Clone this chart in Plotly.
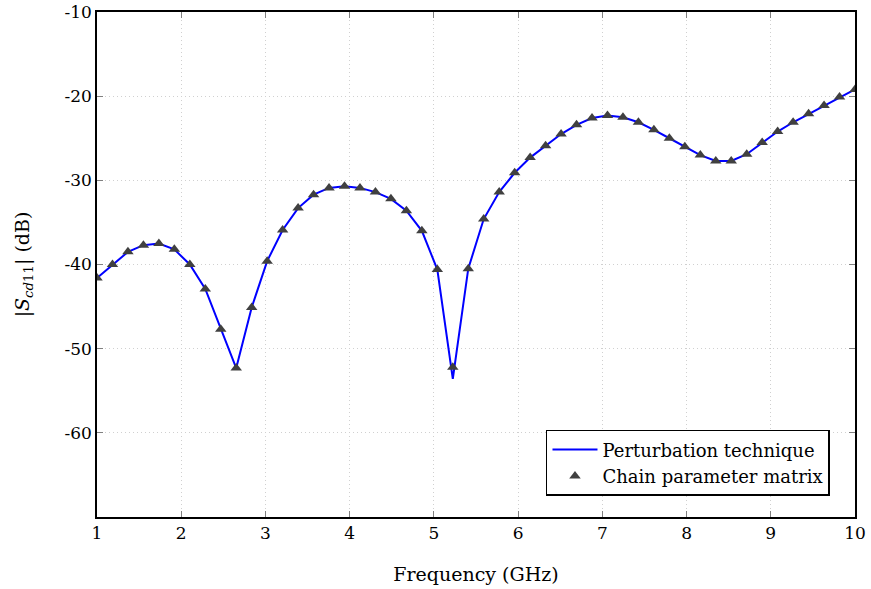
import numpy as np
import plotly.graph_objects as go

freq = np.linspace(1, 10, 50)
chain_db = [-41.6, -40.0, -38.5, -37.7, -37.5, -38.2, -40.0, -42.9, -47.7, -52.3,
            -45.1, -39.6, -35.9, -33.3, -31.7, -30.9, -30.7, -30.9, -31.4, -32.2,
            -33.6, -36.0, -40.6, -52.2, -40.5, -34.6, -31.4, -29.1, -27.3, -25.9,
            -24.5, -23.4, -22.6, -22.3, -22.5, -23.1, -24.0, -25.0, -26.0, -27.0,
            -27.7, -27.7, -26.9, -25.5, -24.2, -23.1, -22.1, -21.1, -20.1, -19.2]
pert_db = list(chain_db)
pert_db[23] = -53.6

y_ticks = [-60, -50, -40, -30, -20, -10]
y_labels = ["-60", "-50", "-40", "-30", "-20", "-10"]

font_family = "DejaVu Serif"
fs = 17

fig = go.Figure()
fig.add_trace(go.Scatter(x=freq, y=pert_db, mode="lines", name="Perturbation technique",
                         line=dict(color="#0000ff", width=2)))
fig.add_trace(go.Scatter(x=freq, y=chain_db, mode="markers", name="Chain parameter matrix",
                         marker=dict(symbol="triangle-up", size=10, color="#404040")))

axis_common = dict(showline=True, linecolor="black", linewidth=1.5, mirror="allticks",
                   ticks="inside", ticklen=6, tickcolor="#808080", automargin=False,
                   showgrid=True, gridcolor="#d0d0d0", griddash="1px,3px", gridwidth=1,
                   zeroline=False, tickfont=dict(family=font_family, size=fs, color="black"))

fig.update_layout(
    width=871, height=589,
    margin=dict(l=97, r=16, t=12, b=72),
    plot_bgcolor="white", paper_bgcolor="white",
    font=dict(family=font_family, size=fs, color="black"),
    xaxis=dict(range=[1, 10], dtick=1,
               title=dict(text="Frequency (GHz)", standoff=26, font=dict(size=fs + 2)), **axis_common),
    yaxis=dict(range=[-70, -10], tickvals=y_ticks, ticktext=y_labels,
               title=dict(text="|<i>S</i><sub><i>cd</i>11</sub>| (dB)", standoff=30,
                          font=dict(size=fs + 2)),
               **axis_common),
    legend=dict(x=0.967, y=0.042, xanchor="right", yanchor="bottom",
                bordercolor="black", borderwidth=1.5, bgcolor="white", itemwidth=45,
                font=dict(family=font_family, size=fs + 1)),
)

fig.write_html("out.html")
